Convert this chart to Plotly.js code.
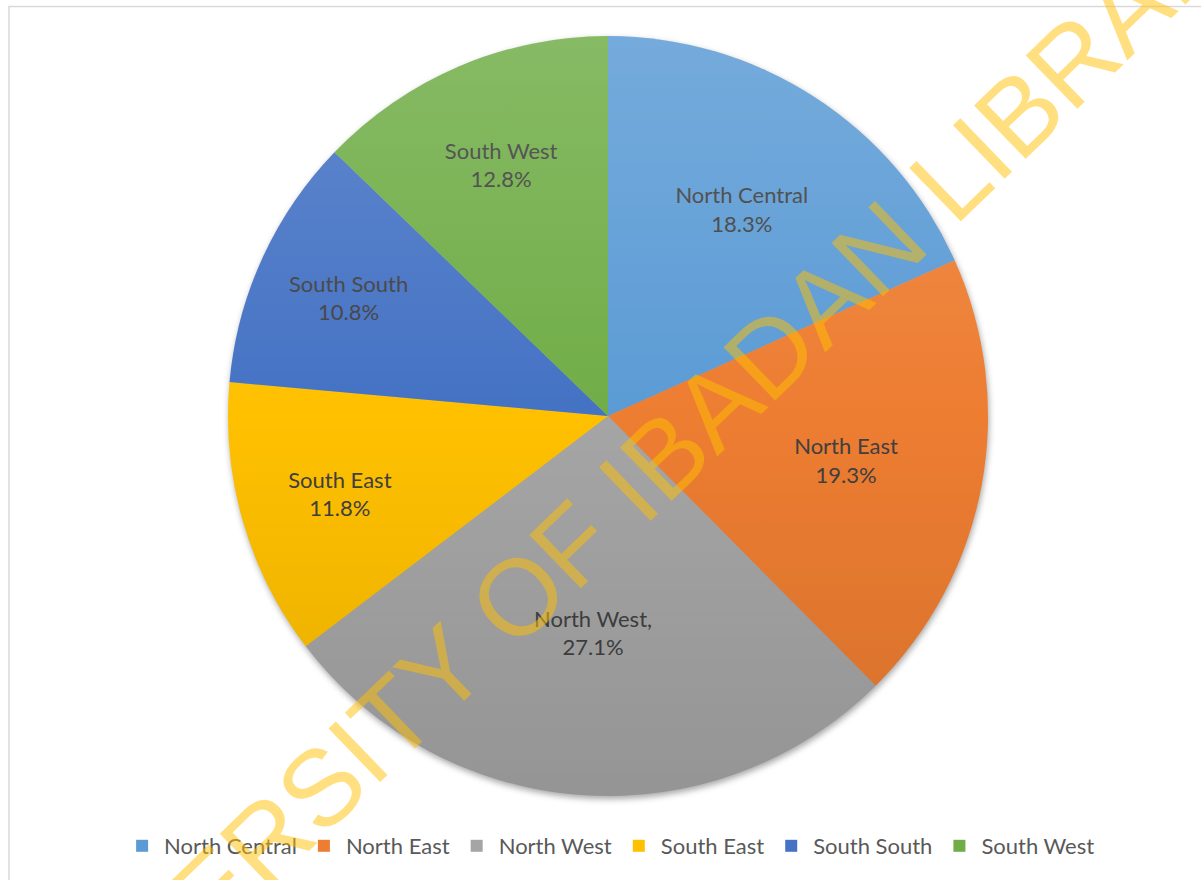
<!DOCTYPE html>
<html>
<head>
<meta charset="utf-8">
<script src="https://cdn.plot.ly/plotly-3.0.1.min.js"></script>
<style>html,body{margin:0;padding:0;background:#fff;}#chart{width:1201px;height:880px;}</style>
</head>
<body>
<div id="chart"></div>
<script>
// Data
var regions = ["North Central", "North East", "North West", "South East", "South South", "South West"];
var sliceLabels = ["North Central", "North East", "North West,", "South East", "South South", "South West"];
var shares = [18.3, 19.3, 27.1, 11.8, 10.8, 12.8];
var sliceColors = ["#5B9BD5", "#ED7D31", "#A5A5A5", "#FFC000", "#4472C4", "#70AD47"];
var watermarkText = "UNIVERSITY OF IBADAN LIBRARY";

var W = 1201, H = 880;
var cx = 608, cy = 416, R = 380;

// soft gradient overlay (lighter top, darker bottom) and drop shadow, as SVG data URIs
var gradSvg = '<svg xmlns="http://www.w3.org/2000/svg" viewBox="0 0 100 100" preserveAspectRatio="none">' +
  '<defs><linearGradient id="g" x1="0" y1="0" x2="0" y2="1">' +
  '<stop offset="0" stop-color="#ffffff" stop-opacity="0.16"/>' +
  '<stop offset="0.5" stop-color="#ffffff" stop-opacity="0"/>' +
  '<stop offset="0.5" stop-color="#000000" stop-opacity="0"/>' +
  '<stop offset="1" stop-color="#000000" stop-opacity="0.10"/>' +
  '</linearGradient></defs><circle cx="50" cy="50" r="50" fill="url(#g)"/></svg>';
var pad = 14, S = 2 * R + 2 * pad;
var shadowSvg = '<svg xmlns="http://www.w3.org/2000/svg" viewBox="0 0 ' + S + ' ' + S + '" preserveAspectRatio="none">' +
  '<defs><filter id="f" x="-10%" y="-10%" width="120%" height="120%"><feGaussianBlur stdDeviation="3"/></filter></defs>' +
  '<circle cx="' + (R + pad + 1) + '" cy="' + (R + pad + 3) + '" r="' + R + '" fill="#000" fill-opacity="0.35" filter="url(#f)"/></svg>';
function uri(s) { return "data:image/svg+xml;charset=utf-8," + encodeURIComponent(s); }

var trace = {
  type: "pie",
  labels: regions,
  values: shares,
  text: sliceLabels,
  sort: false,
  direction: "clockwise",
  rotation: 0,
  textinfo: "text",
  texttemplate: "%{text}<br>%{value:.1f}%",
  textposition: "inside",
  insidetextorientation: "horizontal",
  hoverinfo: "label+value",
  marker: { colors: sliceColors, line: { width: 0 } },
  insidetextfont: { family: "Lato, 'Open Sans', sans-serif", size: 22, color: "#404040" },
  domain: {
    x: [(cx - R) / W, (cx + R) / W],
    y: [1 - (cy + R) / H, 1 - (cy - R) / H]
  }
};

var layout = {
  width: W,
  height: H,
  margin: { l: 0, r: 0, t: 0, b: 0, pad: 0 },
  paper_bgcolor: "#ffffff",
  showlegend: true,
  legend: {
    orientation: "h",
    x: 0.508,
    xanchor: "center",
    y: 1 - 846 / H,
    yanchor: "middle",
    itemwidth: 34,
    font: { family: "Lato, 'Open Sans', sans-serif", size: 22, color: "#595959" },
    traceorder: "normal",
    itemclick: false
  },
  images: [
    {
      source: uri(shadowSvg), xref: "paper", yref: "paper",
      x: (cx - R - pad) / W, y: 1 - (cy - R - pad) / H,
      sizex: S / W, sizey: S / H, sizing: "stretch",
      xanchor: "left", yanchor: "top", layer: "below"
    },
    {
      source: uri(gradSvg), xref: "paper", yref: "paper",
      x: (cx - R) / W, y: 1 - (cy - R) / H,
      sizex: 2 * R / W, sizey: 2 * R / H, sizing: "stretch",
      xanchor: "left", yanchor: "top", layer: "above"
    }
  ],
  shapes: [{
    type: "rect",
    xref: "paper", yref: "paper",
    x0: 9 / W, x1: 1.05, y0: -0.05, y1: 1 - 6.5 / H,
    line: { color: "#d9d9d9", width: 1.5 },
    fillcolor: "rgba(0,0,0,0)",
    layer: "below"
  }],
  annotations: [{
    text: watermarkText,
    xref: "paper", yref: "paper",
    x: 630 / W, y: 1 - 488 / H,
    xanchor: "center", yanchor: "middle",
    textangle: -44,
    showarrow: false,
    font: { family: "'Liberation Sans', Arial, sans-serif", size: 108, color: "rgba(255,192,0,0.5)" }
  }]
};

Plotly.newPlot("chart", [trace], layout, { displayModeBar: false, staticPlot: true });
</script>
</body>
</html>
